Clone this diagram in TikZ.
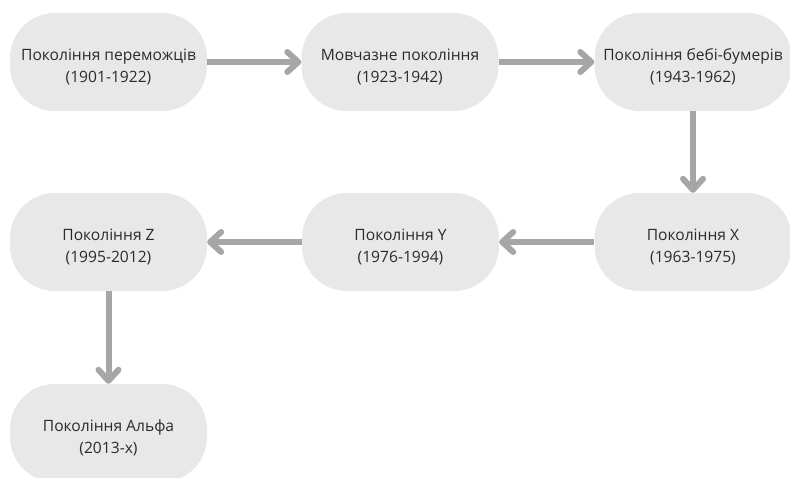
\documentclass[tikz,border=0pt]{standalone}
\usepackage{fontspec}
\setmainfont{Open Sans}
\usetikzlibrary{arrows.meta}
\definecolor{genfill}{HTML}{E8E8E8}
\definecolor{genarrow}{HTML}{A6A6A6}
\definecolor{gentext}{HTML}{2B2B2B}
\newcommand{\gentxt}[2]{\raisebox{-5pt}[\height][\depth]{\begin{tabular}{@{}c@{}}#1\\#2\end{tabular}}}
\tikzset{
  genbox/.style={fill=genfill, draw=none, rounded corners=45pt,
    minimum width=197pt, minimum height=98pt, inner sep=0pt,
    text=gentext, font=\fontsize{15.6}{22}\selectfont},
  genlink/.style={draw=genarrow, line width=6pt,
    -{Straight Barb[length=11pt, width=20pt, line cap=round, line join=round]}}
}
\begin{document}
\begin{tikzpicture}[x=1pt,y=1pt]
\useasboundingbox (0,0) rectangle (790,-477);
\node[genbox] (n1) at (108.5,-62) {\gentxt{Покоління переможців}{(1901-1922)}};
\node[genbox] (n2) at (400,-62) {\gentxt{Мовчазне покоління}{(1923-1942)}};
\node[genbox] (n3) at (693,-62) {\gentxt{Покоління бебі-бумерів}{(1943-1962)}};
\node[genbox] (nx) at (693,-242) {\gentxt{Покоління X}{(1963-1975)}};
\node[genbox] (ny) at (400.5,-242) {\gentxt{Покоління Y}{(1976-1994)}};
\node[genbox] (nz) at (108.5,-242) {\gentxt{Покоління Z}{(1995-2012)}};
\node[genbox] (na) at (108.5,-433) {\gentxt{Покоління Альфа}{(2013-х)}};
\draw[genlink] (n1) -- (n2);
\draw[genlink] (n2) -- (n3);
\draw[genlink] (n3) -- (nx);
\draw[genlink] (nx) -- (ny);
\draw[genlink] (ny) -- (nz);
\draw[genlink] (nz) -- (na);
\end{tikzpicture}
\end{document}
